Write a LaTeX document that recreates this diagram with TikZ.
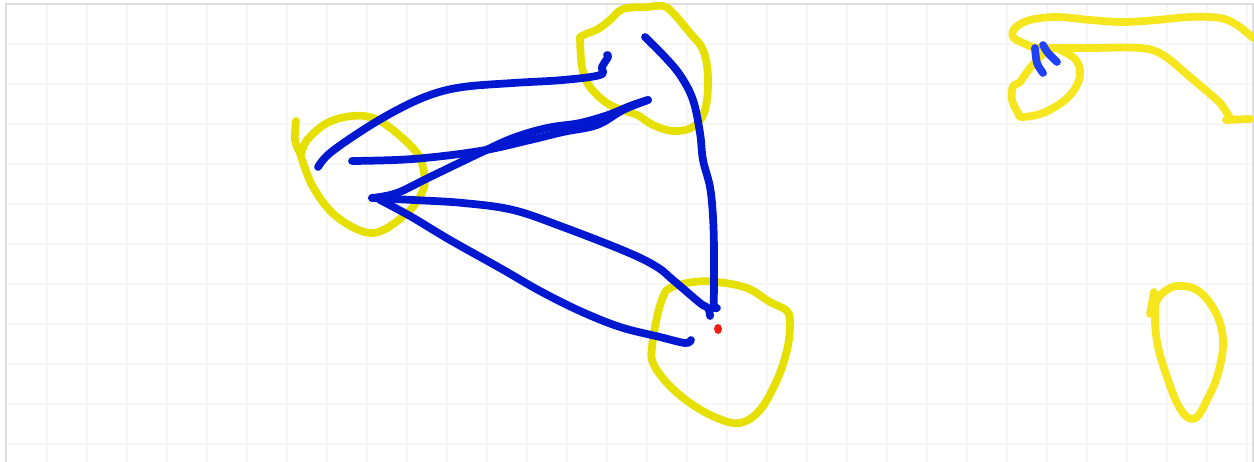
\documentclass[tikz,border=0pt]{standalone}
\usepackage{tikz}
\definecolor{inkyellow}{RGB}{230,224,0}
\definecolor{inkyellowb}{RGB}{246,230,30}
\definecolor{inkblue}{RGB}{0,24,208}
\definecolor{inkblueb}{RGB}{32,64,250}
\definecolor{inkred}{RGB}{235,30,20}
\definecolor{gridgray}{RGB}{246,246,246}
\definecolor{framegray}{RGB}{222,222,222}

\begin{document}
\begin{tikzpicture}[
  x=0.02cm, y=-0.02cm,
  gridline/.style={draw=gridgray, line width=1.6pt},
  ink/.style={line width=4.4pt, line cap=round, line join=round},
  yellowink/.style={ink, draw=inkyellow},
  brightyellow/.style={ink, draw=inkyellowb},
  blueink/.style={ink, draw=inkblue},
  lightblue/.style={ink, draw=inkblueb}
]
  \useasboundingbox (0,0) rectangle (1254,462);
  \fill[white] (0,0) rectangle (1254,462);
  % paper grid
  \foreach \gx in {47,87,...,1247} \draw[gridline] (\gx,4) -- (\gx,462);
  \foreach \gy in {44,84,...,444} \draw[gridline] (6,\gy) -- (1253,\gy);
  \draw[framegray, line width=0.6pt] (6,462) -- (6,4) -- (1253,4) -- (1253,462);

  % yellow blobs
  \draw[yellowink] plot[smooth, tension=0.6] coordinates {(296,121) (295,140) (300,153)};
  \draw[yellowink] plot[smooth, tension=0.6] coordinates {(302,152) (307,140) (327,123) (352,116) (373,118) (393,130) (417,153) (424,173) (423,190) (407,213) (373,233) (337,217) (313,187) (300,153)};
  \draw[yellowink] plot[smooth, tension=0.6] coordinates {(580,37) (582,67) (590,87) (610,105) (637,115) (653,125) (673,131) (693,127) (705,110) (708,77) (703,50) (690,33) (673,13) (663,6) (647,7) (623,9) (610,20) (598,29) (586,34) (580,37)};
  \draw[yellowink] plot[smooth cycle, tension=0.6] coordinates {(670,288) (693,282) (717,282) (747,288) (770,302) (787,311) (790,325) (787,350) (777,380) (760,410) (740,423) (717,418) (690,403) (667,383) (653,363) (652,347) (657,317) (663,297)};

  % right hand side
  \draw[brightyellow] plot[smooth, tension=0.6] coordinates {(1253,38) (1237,25) (1220,18) (1190,17) (1157,20) (1123,22) (1090,20) (1057,17) (1030,20) (1015,28) (1013,37) (1023,43) (1037,48) (1057,48) (1090,48) (1140,48) (1163,55) (1190,77) (1217,100) (1223,107) (1230,118)};
  \draw[brightyellow] (1226,120) -- (1250,119);
  \draw[brightyellow] plot[smooth, tension=0.6] coordinates {(1060,50) (1074,58) (1080,70) (1077,85) (1065,100) (1043,113) (1022,117) (1018,113) (1012,100) (1013,86) (1019,83) (1027,72) (1037,60) (1045,52)};
  \draw[brightyellow] plot[smooth cycle, tension=0.6] coordinates {(1170,288) (1183,286) (1197,290) (1210,303) (1220,323) (1223,347) (1217,377) (1207,400) (1197,417) (1187,417) (1177,403) (1167,377) (1158,347) (1155,320) (1157,300)};
  \draw[brightyellow] (1154,292) -- (1150,314);
  \draw[lightblue] plot[smooth, tension=0.6] coordinates {(1035,48) (1037,63) (1043,73)};
  \draw[lightblue] plot[smooth, tension=0.6] coordinates {(1043,45) (1048,53) (1057,62)};

  % blue strokes
  \draw[blueink] plot[smooth, tension=0.6] coordinates {(318,167) (330,153) (363,130) (397,110) (430,95) (463,87) (513,83) (563,80) (600,75) (602,67) (608,57) (607,55)};
  \draw[blueink] plot[smooth, tension=0.6] coordinates {(352,161) (413,159) (480,151) (530,140) (563,132) (597,125) (623,110) (648,100)};
  \draw[blueink] plot[smooth, tension=0.6] coordinates {(372,198) (397,193) (430,177) (480,153) (513,138) (547,128) (580,123) (608,115) (630,106) (648,100)};
  \draw[blueink] plot[smooth, tension=0.6] coordinates {(372,198) (413,200) (463,203) (513,210) (563,227) (627,252) (657,267) (673,280) (700,303) (708,308) (710,316)};
  \draw[blueink] plot[smooth, tension=0.6] coordinates {(380,200) (410,216) (450,240) (500,268) (540,291) (580,311) (620,327) (660,337) (685,343) (691,340)};
  \draw[blueink] plot[smooth, tension=0.6] coordinates {(645,37) (663,55) (680,75) (693,100) (700,133) (703,160) (710,187) (713,217) (714,250) (714,285) (714,306) (717,308)};

  % red dot
  \fill[inkred] (718,329) ellipse [x radius=4, y radius=5];
\end{tikzpicture}
\end{document}
